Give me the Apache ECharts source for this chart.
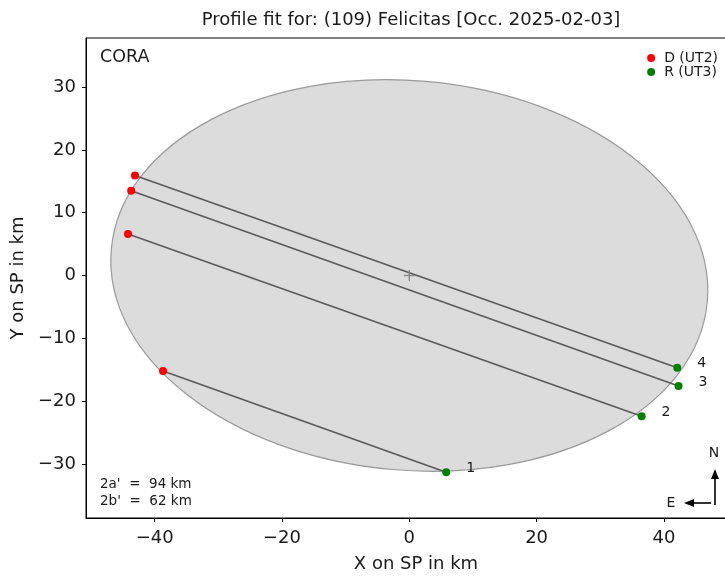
<!DOCTYPE html>
<html>
<head>
<meta charset="utf-8">
<script src="https://cdn.jsdelivr.net/npm/echarts@6/dist/echarts.min.js"></script>
<style>
  html, body { margin: 0; padding: 0; background: #fff; }
  #chart { width: 725px; height: 576px; }
</style>
</head>
<body>
<div id="chart"></div>
<script>
// chord ids and their disappearance (D) / reappearance (R) points, km on sky plane
const chordIds = ['1', '2', '3', '4'];
const dX = [-38.7, -44.2, -43.7, -43.1];
const dY = [-15.2, 6.6, 13.5, 15.9];
const rX = [5.8, 36.5, 42.3, 42.1];
const rY = [-31.3, -22.4, -17.6, -14.7];

// fitted profile
const ellipseCenter = [0, 0];
const ellipseAxes = [94, 62];      // 2a', 2b'
const ellipseAngleDeg = -5;

const xTicks = [-40, -20, 0, 20, 40];
const yTicks = [-30, -20, -10, 0, 10, 20, 30];

const fontFamily = 'DejaVu Sans';
const ink = '#1a1a1a';
const minus = (v) => String(v).replace('-', '\u2212');

const chart = echarts.init(document.getElementById('chart'));

const chordSeries = chordIds.map((id, i) => ({
  type: 'line',
  data: [[dX[i], dY[i]], [rX[i], rY[i]]],
  symbol: 'none',
  silent: true,
  z: 3,
  lineStyle: { color: '#5a5a5a', width: 1.6 },
}));

const option = {
  animation: false,
  textStyle: { fontFamily },
  title: {
    text: 'Profile fit for: (109) Felicitas [Occ. 2025-02-03]',
    left: 406,
    top: 6,
    textAlign: 'center',
    textStyle: { fontSize: 18, fontWeight: 'normal', color: ink, fontFamily },
  },
  legend: {
    orient: 'vertical',
    right: 2,
    top: 46,
    itemGap: 0,
    itemWidth: 8,
    itemHeight: 8,
    icon: 'circle',
    textStyle: { fontSize: 14, color: ink, padding: [0, 0, 0, 4] },
    data: ['D (UT2)', 'R (UT3)'],
  },
  grid: {
    left: 86,
    top: 38,
    width: 660,
    height: 480,
    outerBoundsMode: 'none',
    show: true,
    borderColor: '#000',
    borderWidth: 1,
  },
  xAxis: {
    type: 'value',
    min: -50.8,
    max: 52.9,
    name: 'X on SP in km',
    nameLocation: 'middle',
    nameGap: 37,
    nameTextStyle: { fontSize: 18, color: ink },
    axisLine: { onZero: false, lineStyle: { color: '#000' } },
    axisTick: { length: 4, customValues: xTicks, lineStyle: { color: '#000' } },
    axisLabel: { customValues: xTicks, fontSize: 18, color: ink, margin: 11, formatter: minus },
    splitLine: { show: false },
  },
  yAxis: {
    type: 'value',
    min: -38.6,
    max: 37.8,
    name: 'Y on SP in km',
    nameLocation: 'middle',
    nameGap: 58,
    nameTextStyle: { fontSize: 18, color: ink },
    axisLine: { onZero: false, lineStyle: { color: '#000' } },
    axisTick: { length: 4, customValues: yTicks, lineStyle: { color: '#000' } },
    axisLabel: { customValues: yTicks, fontSize: 18, color: ink, margin: 10, formatter: minus },
    splitLine: { show: false },
  },
  series: [
    {
      type: 'custom',
      silent: true,
      z: 1,
      data: [ellipseCenter],
      renderItem: (params, api) => {
        const c = api.coord([api.value(0), api.value(1)]);
        const px = api.coord([api.value(0) + 1, api.value(1)]);
        const py = api.coord([api.value(0), api.value(1) + 1]);
        const sx = px[0] - c[0];
        const sy = c[1] - py[1];
        return {
          type: 'ellipse',
          x: c[0],
          y: c[1],
          rotation: ellipseAngleDeg * Math.PI / 180,
          shape: { cx: 0, cy: 0, rx: ellipseAxes[0] / 2 * sx, ry: ellipseAxes[1] / 2 * sy },
          style: { fill: '#dcdcdc', stroke: '#9a9a9a', lineWidth: 1.2 },
        };
      },
    },
    ...chordSeries,
    {
      type: 'scatter',
      silent: true,
      z: 4,
      data: [ellipseCenter],
      symbol: 'path://M-0.6,-5H0.6V-0.6H5V0.6H0.6V5H-0.6V0.6H-5V-0.6H-0.6Z',
      symbolSize: 11,
      itemStyle: { color: '#8a8a8a', opacity: 1 },
    },
    {
      name: 'D (UT2)',
      type: 'scatter',
      z: 5,
      symbolSize: 8,
      itemStyle: { color: '#ff0000', opacity: 1 },
      data: dX.map((x, i) => [x, dY[i]]),
    },
    {
      name: 'R (UT3)',
      type: 'scatter',
      z: 5,
      symbolSize: 8,
      itemStyle: { color: '#008000', opacity: 1 },
      data: rX.map((x, i) => [x, rY[i], chordIds[i]]),
      label: {
        show: true,
        position: 'right',
        distance: 16,
        offset: [0, -4],
        fontSize: 14,
        color: ink,
        formatter: (p) => p.value[2],
      },
    },
  ],
  graphic: [
    { type: 'text', left: 100, top: 48, style: { text: 'CORA', fontSize: 17.5, fill: ink, fontFamily } },
    { type: 'text', left: 100, top: 477, style: { text: "2a'  =  94 km", fontSize: 13.5, fill: ink, fontFamily } },
    { type: 'text', left: 100, top: 494, style: { text: "2b'  =  62 km", fontSize: 13.5, fill: ink, fontFamily } },
    // north / east arrows
    { type: 'line', shape: { x1: 715, y1: 505, x2: 715, y2: 477 }, style: { stroke: '#000', lineWidth: 1.6 } },
    { type: 'polygon', shape: { points: [[715, 469], [711, 479], [719, 479]] }, style: { fill: '#000' } },
    { type: 'line', shape: { x1: 711, y1: 503, x2: 692, y2: 503 }, style: { stroke: '#000', lineWidth: 1.6 } },
    { type: 'polygon', shape: { points: [[684, 503], [694, 499], [694, 507]] }, style: { fill: '#000' } },
    { type: 'text', x: 714, y: 453, style: { text: 'N', fontSize: 14, fill: ink, fontFamily, align: 'center', verticalAlign: 'middle' } },
    { type: 'text', x: 671, y: 503, style: { text: 'E', fontSize: 14, fill: ink, fontFamily, align: 'center', verticalAlign: 'middle' } },
  ],
};

chart.setOption(option);
</script>
</body>
</html>
